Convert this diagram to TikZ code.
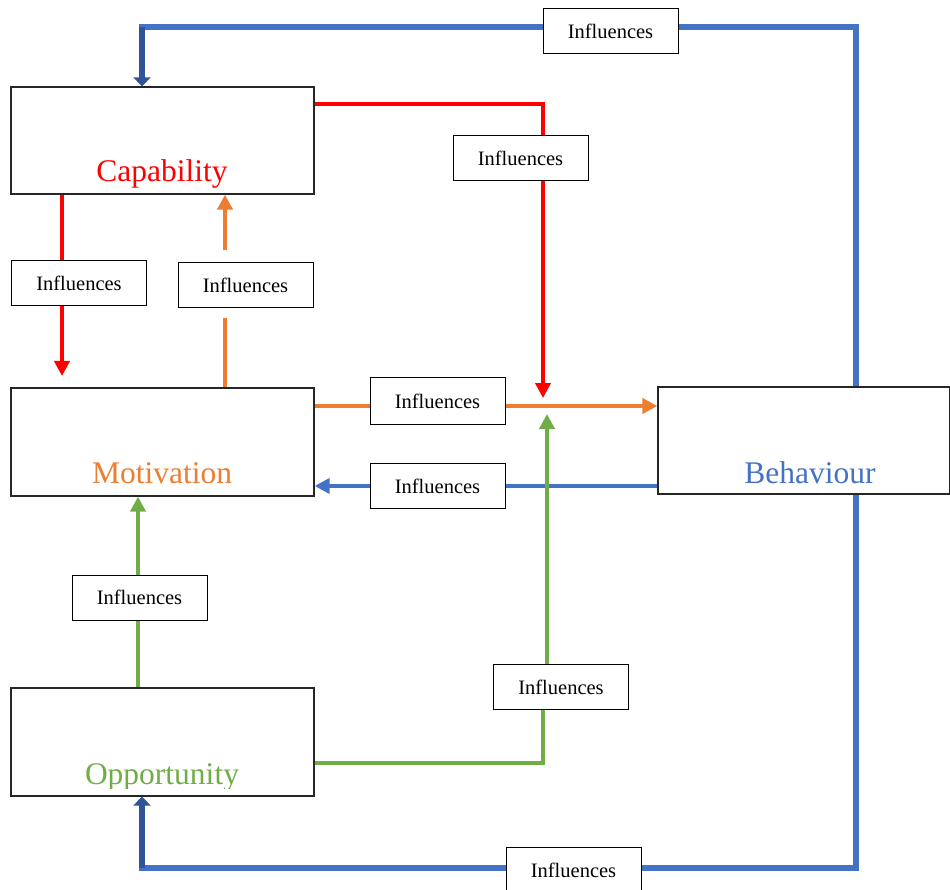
\documentclass[tikz,border=0pt]{standalone}
\usepackage{fontspec}
\setmainfont{Liberation Serif}
\usetikzlibrary{arrows.meta,backgrounds,calc}
\definecolor{cred}{HTML}{FF0000}
\definecolor{corange}{HTML}{ED7D31}
\definecolor{cgreen}{HTML}{70AD47}
\definecolor{cblue}{HTML}{4472C4}
\definecolor{cdblue}{HTML}{2F5597}
\begin{document}
\begin{tikzpicture}[x=1pt,y=-1pt,
  ibox/.style={draw=black,line width=1pt,fill=white,minimum width=135pt,minimum height=45pt,inner sep=0pt,font=\fontsize{20.5}{24}\selectfont},
  mbox/.style={draw=black!85,line width=1.2pt,fill=white,minimum width=303pt,minimum height=107pt,inner sep=0pt},
  big/.style={anchor=base,inner sep=0pt,font=\fontsize{31.5}{36}\selectfont},
  tip/.style={-{Triangle[length=15pt,width=15pt]}},
  redl/.style={draw=cred,line width=3.8pt},
  orl/.style={draw=corange,line width=3.8pt},
  grl/.style={draw=cgreen,line width=4.5pt},
  bll/.style={draw=cblue,line width=5.5pt},
  dbl/.style={draw=cdblue,line width=6.5pt,-{Triangle[length=9pt,width=17pt]}}]
\useasboundingbox (0,0) rectangle (950,890);
% main boxes
\node[mbox] (cap) at (162.5,140.5) {};
\node[mbox,minimum height=108pt] (mot) at (162.5,442) {};
\node[mbox,minimum height=108pt] (opp) at (162.5,742) {};
\node[mbox,minimum width=292pt] (beh) at (804,440.5) {};
\begin{scope}
\clip (11,87) rectangle (314,188);
\node[big,text=cred] (capt) at (162,182) {Capability};
\end{scope}
\node[big,text=corange] (mott) at (162,483) {Motivation};
\begin{scope}
\clip (11,688) rectangle (314,788);
\node[big,text=cgreen] (oppt) at (162,784) {Opportunity};
\end{scope}
\node[big,text=cblue] (beht) at (810,483) {Behaviour};
% influence boxes
\node[ibox] (i1) at (610.5,31.5) {Influences};
\node[ibox] (i2) at (520.5,158.5) {Influences};
\node[ibox] (i3) at (79,283.5) {Influences};
\node[ibox] (i4) at (245.5,285.5) {Influences};
\node[ibox,minimum height=47pt] (i5) at (437.5,401) {Influences};
\node[ibox] (i6) at (437.5,486) {Influences};
\node[ibox] (i7) at (139.5,597.5) {Influences};
\node[ibox] (i8) at (561,687) {Influences};
\node[ibox] (i9) at (573.5,870) {Influences};
% helper coordinates
\coordinate (xB) at (856,0);
\coordinate (tTop) at (856,27);
\coordinate (tTopL) at (139,27);
\coordinate (tTopA) at (142,27);
\coordinate (xA) at (142,0);
\coordinate (tBot) at (856,868);
\coordinate (tBotL) at (139,868);
\coordinate (tBotA) at (142,868);
\coordinate (yb) at (0,486);
\coordinate (yo) at (0,406);
\coordinate (xo) at (225,0);
\coordinate (xr) at (62,0);
\coordinate (rEnd) at (62,376);
\coordinate (yr) at (0,104);
\coordinate (rTip) at (543,398);
\coordinate (xg) at (138,0);
\coordinate (yg) at (0,763);
\coordinate (gC) at (543,763);
\coordinate (xg2) at (547,0);
\coordinate (gTip) at (547,414);
\begin{scope}[on background layer]
\draw[bll] (beh.north -| xB) -- (tTop) -- (tTopL);
\draw[dbl] (tTopA) -- (cap.north -| xA);
\draw[bll] (beh.south -| xB) -- (tBot) -- (tBotL);
\draw[dbl] (tBotA) -- (opp.south -| xA);
\draw[bll,line width=4pt,tip] (beh.west |- yb) -- (mot.east |- yb);
\draw[orl,tip] (mot.east |- yo) -- (beh.west |- yo);
\draw[orl,shorten >=10pt] (mot.north -| xo) -- (i4.south -| xo);
\draw[orl,tip,shorten <=12pt] (i4.north -| xo) -- (cap.south -| xo);
\draw[redl,tip] (cap.south -| xr) -- (rEnd);
\draw[redl,tip] (cap.east |- yr) -| (rTip);
\draw[grl,tip] (opp.north -| xg) -- (mot.south -| xg);
\draw[grl] (opp.east |- yg) -- (gC) -- (i8.south -| gC);
\draw[grl,tip] (i8.north -| xg2) -- (gTip);
\end{scope}
\end{tikzpicture}
\end{document}
